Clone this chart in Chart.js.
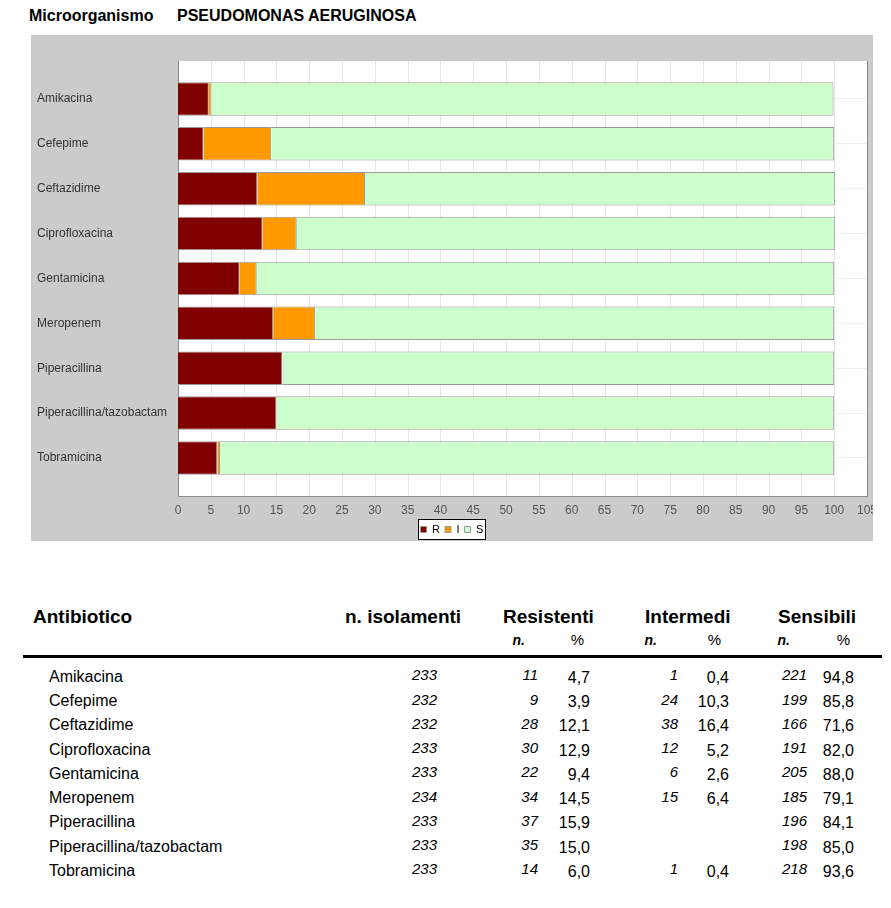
<!DOCTYPE html>
<html><head><meta charset="utf-8">
<script src="https://cdn.jsdelivr.net/npm/chart.js@4"></script>
<style>
html,body{margin:0;padding:0;background:#fff;}
body{width:891px;height:908px;position:relative;overflow:hidden;font-family:"Liberation Sans",Arial,sans-serif;color:#000;}
.t{position:absolute;white-space:nowrap;line-height:1;}
#panel{position:absolute;left:31px;top:35px;width:842px;height:506px;background:#cbcbcb;}
#rule{position:absolute;left:23px;top:655px;width:859px;height:3px;background:#000;}
</style></head>
<body>
<div id="panel"><canvas id="c" width="842" height="506"></canvas></div>
<div id="rule"></div>
<script>
const categories = ["Amikacina","Cefepime","Ceftazidime","Ciprofloxacina","Gentamicina","Meropenem","Piperacillina","Piperacillina/tazobactam","Tobramicina"];
const isolates   = [233,232,232,233,233,234,233,233,233];
const resistN    = [11,9,28,30,22,34,37,35,14];
const resistPct  = [4.7,3.9,12.1,12.9,9.4,14.5,15.9,15.0,6.0];
const intermN    = [1,24,38,12,6,15,null,null,1];
const intermPct  = [0.4,10.3,16.4,5.2,2.6,6.4,null,null,0.4];
const sensN      = [221,199,166,191,205,185,196,198,218];
const sensPct    = [94.8,85.8,71.6,82.0,88.0,79.1,84.1,85.0,93.6];
const seriesLabels = ["R","I","S"];
const xMin = 0, xMax = 105, xStep = 5;

const FONT = '"Liberation Sans", Arial, sans-serif';

// ---------- text (title + table) ----------
function addText(text, o){
  const el = document.createElement('div');
  el.className = 't';
  el.textContent = text;
  el.style.fontSize = o.size + 'px';
  el.style.fontWeight = o.weight || 'normal';
  el.style.fontStyle = o.style || 'normal';
  el.style.color = o.color || '#000';
  el.style.top = (o.baseline - 0.8465 * o.size) + 'px';
  if (o.left != null) el.style.left = o.left + 'px';
  else el.style.right = (891 - o.right) + 'px';
  document.body.appendChild(el);
}
const fmt = v => v == null ? '' : v.toFixed(1).replace('.', ',');

addText('Microorganismo', {left:29, baseline:22, size:16, weight:'bold'});
addText('PSEUDOMONAS AERUGINOSA', {left:177, baseline:22, size:16, weight:'bold'});

addText('Antibiotico',   {left:33,  baseline:623, size:19, weight:'bold'});
addText('n. isolamenti', {left:345, baseline:623, size:19, weight:'bold'});
addText('Resistenti',    {left:503, baseline:623, size:19, weight:'bold'});
addText('Intermedi',     {left:645, baseline:623, size:19, weight:'bold'});
addText('Sensibili',     {left:778, baseline:623, size:19, weight:'bold'});
[[525,584],[657,721],[790,850]].forEach(([nr, pr]) => {
  addText('n.', {right:nr, baseline:645, size:14, weight:'bold', style:'italic'});
  addText('%',  {right:pr, baseline:645, size:15});
});

categories.forEach((name, i) => {
  const b = 681.5 + i * 24.25;
  addText(name, {left:49, baseline:b + 1, size:16});
  addText(String(isolates[i]), {right:437, baseline:b - 1.5, size:15, style:'italic'});
  addText(String(resistN[i]), {right:538, baseline:b - 1.5, size:15, style:'italic'});
  addText(fmt(resistPct[i]), {right:590, baseline:b + 2, size:16});
  if (intermN[i] != null) {
    addText(String(intermN[i]), {right:678, baseline:b - 1.5, size:15, style:'italic'});
    addText(fmt(intermPct[i]), {right:729, baseline:b + 2, size:16});
  }
  addText(String(sensN[i]), {right:807, baseline:b - 1.5, size:15, style:'italic'});
  addText(fmt(sensPct[i]), {right:854, baseline:b + 2, size:16});
});

// ---------- chart ----------
const PLOT_PAD_TOP = 15.5, PLOT_PAD_BOTTOM = 15.6;
const crisp = v => Math.round(v) + 0.5;

function legendBox(chart){
  const lg = chart.legend;
  if (!lg || !lg.legendHitBoxes || !lg.legendHitBoxes.length) return null;
  const hb = lg.legendHitBoxes;
  const first = hb[0], last = hb[hb.length - 1];
  const left = Math.round(first.left - 3), right = Math.round(last.left + last.width + 2);
  const top = Math.round(first.top - 5);
  return {left, top, width: right - left, height: 20};
}

const plotFrame = {
  id: 'plotFrame',
  beforeDraw(chart){
    const {ctx, chartArea: a} = chart;
    const top = a.top - PLOT_PAD_TOP, bottom = a.bottom + PLOT_PAD_BOTTOM;
    ctx.save();
    ctx.fillStyle = '#ffffff';
    ctx.fillRect(a.left, top, a.right - a.left, bottom - top);
    const lb = legendBox(chart);
    if (lb) { ctx.fillRect(lb.left, lb.top, lb.width, lb.height); }
    ctx.restore();
  },
  beforeDatasetsDraw(chart){
    const {ctx, chartArea: a, scales: {x}} = chart;
    const top = a.top - PLOT_PAD_TOP, bottom = a.bottom + PLOT_PAD_BOTTOM;
    ctx.save();
    ctx.lineWidth = 1;
    ctx.strokeStyle = '#e6e6e6';
    x.ticks.forEach(t => {
      if (t.value <= xMin || t.value >= xMax) return;
      const px = crisp(x.getPixelForValue(t.value));
      ctx.beginPath(); ctx.moveTo(px, top); ctx.lineTo(px, bottom); ctx.stroke();
    });
    ctx.strokeStyle = '#8a8a8a';
    ctx.beginPath();
    ctx.moveTo(crisp(a.left), top); ctx.lineTo(crisp(a.left), crisp(bottom));
    ctx.lineTo(crisp(a.right), crisp(bottom)); ctx.lineTo(crisp(a.right), top);
    ctx.stroke();
    ctx.restore();
  },
  afterDraw(chart){
    const lb = legendBox(chart);
    if (!lb) return;
    const ctx = chart.ctx;
    ctx.save();
    ctx.strokeStyle = '#000'; ctx.lineWidth = 1;
    ctx.strokeRect(lb.left + 0.5, lb.top + 0.5, lb.width, lb.height);
    ctx.restore();
  }
};

const colors = ['#800000', '#ff9900', '#ccffcc'];
const seriesData = [resistPct, intermPct, sensPct];

new Chart(document.getElementById('c'), {
  type: 'bar',
  data: {
    labels: categories,
    datasets: seriesLabels.map((lab, k) => ({
      label: lab,
      data: seriesData[k],
      backgroundColor: colors[k],
      borderColor: '#9a9a9a',
      borderWidth: 1,
      borderSkipped: 'start',
      barPercentage: 0.745,
      categoryPercentage: 1
    }))
  },
  options: {
    indexAxis: 'y',
    responsive: false,
    devicePixelRatio: 1,
    animation: false,
    layout: { padding: { left: 6, right: 6, top: 41.5, bottom: -4 } },
    scales: {
      x: {
        type: 'linear', min: xMin, max: xMax, stacked: true,
        ticks: { stepSize: xStep, color: '#555', font: { family: FONT, size: 12 }, padding: 23, maxRotation: 0, autoSkip: false },
        grid: { display: false, drawTicks: false },
        border: { display: false },
        afterFit(s){ s.height = 38.6; s.paddingRight = 0; s.paddingLeft = 0; }
      },
      y: {
        type: 'category', stacked: true, offset: true,
        ticks: { crossAlign: 'far', color: '#333', font: { family: FONT, size: 12 }, padding: 0 },
        grid: { color: '#efefef', offset: false, drawTicks: false },
        border: { display: false },
        afterFit(s){ s.width = 141; }
      }
    },
    plugins: {
      legend: {
        position: 'bottom',
        labels: { boxWidth: 6, boxHeight: 6, padding: 5, color: '#000', font: { family: FONT, size: 11 } }
      },
      tooltip: { enabled: false }
    }
  },
  plugins: [plotFrame]
});
</script>
</body></html>
